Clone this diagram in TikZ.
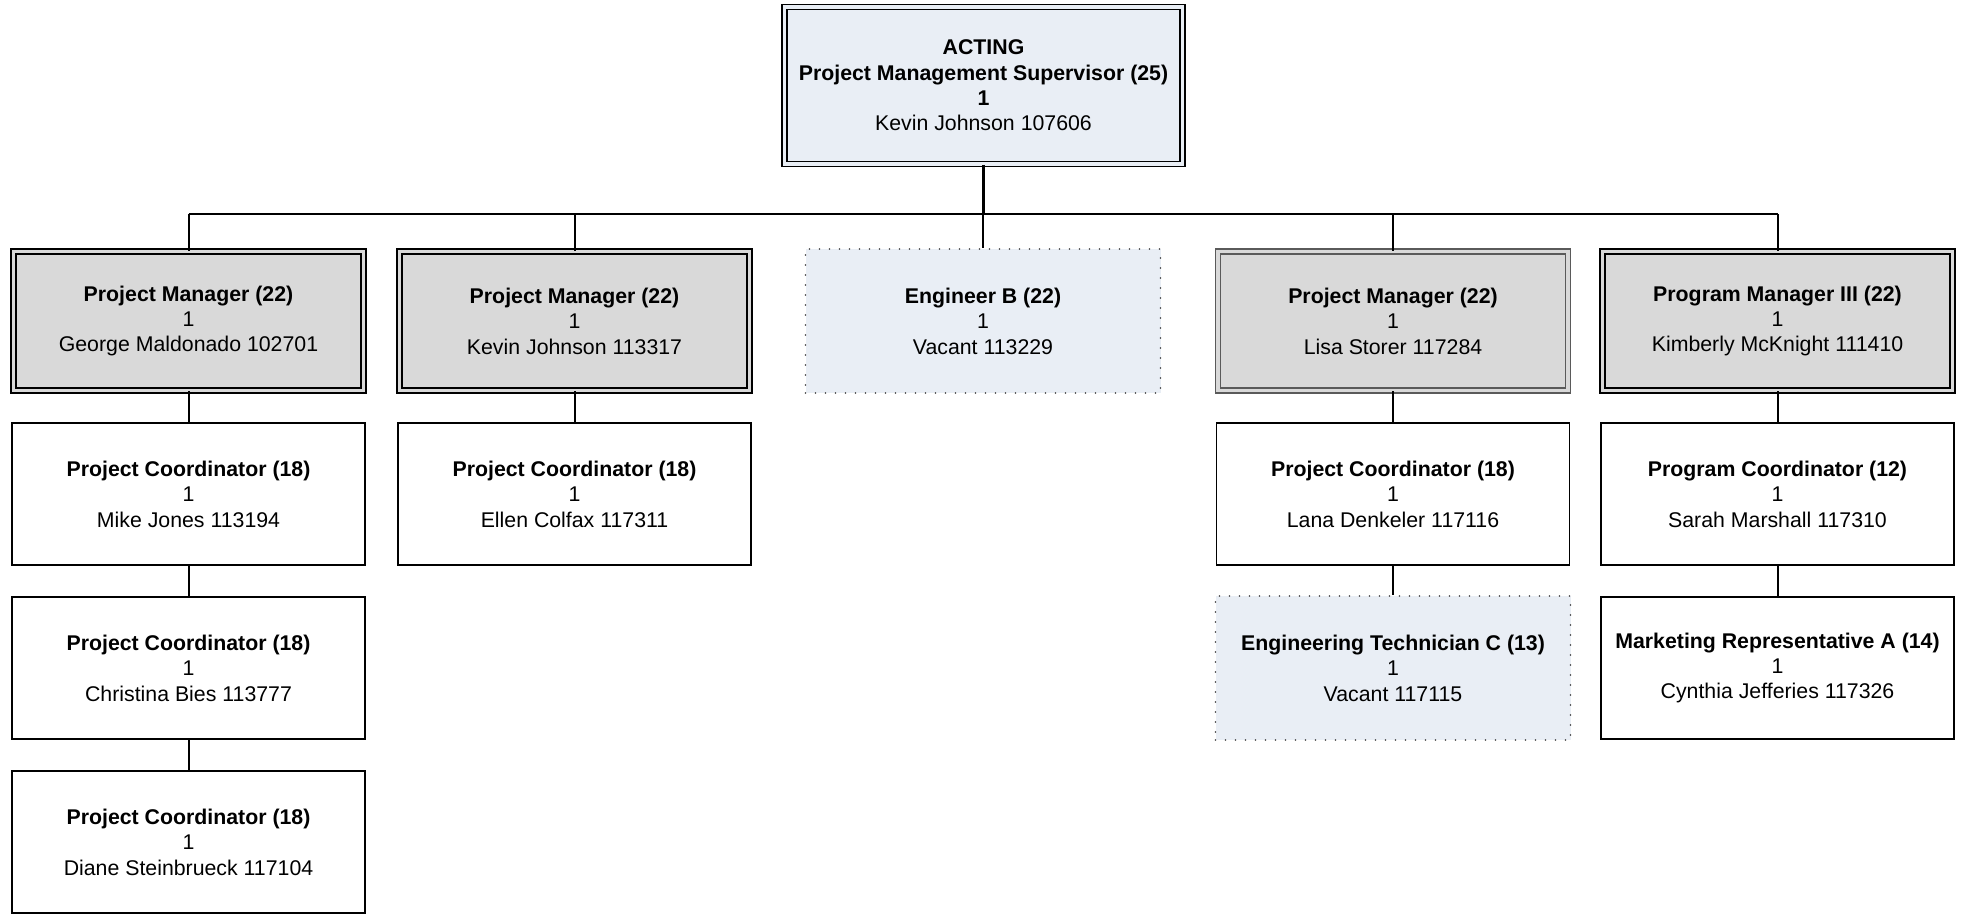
\documentclass[tikz,border=0pt]{standalone}
\usepackage{fontspec}
\setmainfont{Liberation Sans}
\definecolor{lightblue}{HTML}{E9EEF5}
\definecolor{mgrgray}{HTML}{D9D9D9}
\definecolor{dotgray}{HTML}{404040}
\definecolor{lisaborder}{HTML}{5A5A5A}
\begin{document}
\begin{tikzpicture}[x=1pt,y=-1pt,
  every node/.style={font=\fontsize{21.3}{25.4}\selectfont, align=center, inner sep=0pt},
  plainbox/.style={draw=black, line width=1.8pt, fill=white, minimum width=353pt, minimum height=142pt},
  dblbox/.style={draw=black, fill=mgrgray, double=mgrgray, line width=1.6pt, double distance=3.2pt, minimum width=350pt, minimum height=139pt},
  topbox/.style={draw=black, fill=lightblue, double=lightblue, line width=1.6pt, double distance=3.2pt, minimum width=398pt, minimum height=157pt},
  vacbox/.style={draw=dotgray, fill=lightblue, line width=1.8pt, line cap=round, dash pattern=on 0pt off 10pt, minimum width=355pt, minimum height=144pt},
  toplink/.style={draw=black, line width=2.4pt},
  sublink/.style={draw=black, line width=2pt}
]
\useasboundingbox (0,0) rectangle (1965,915);

% top
\node[topbox] (top) at (983.5,85.5) {\textbf{ACTING}\\\textbf{Project Management Supervisor (25)}\\\textbf{1}\\Kevin Johnson 107606};

% level 2
\node[dblbox] (pm1) at (188.5,321) {\textbf{Project Manager (22)}\\1\\George Maldonado 102701};
\node[dblbox] (pm2) at (574.5,321) {\textbf{Project Manager (22)}\\1\\Kevin Johnson 113317};
\node[vacbox] (engb) at (983,321) {\textbf{Engineer B (22)}\\1\\Vacant 113229};
\node[dblbox, draw=lisaborder] (pm4) at (1393,321) {\textbf{Project Manager (22)}\\1\\Lisa Storer 117284};
\node[dblbox] (pm5) at (1777.5,321) {\textbf{Program Manager III (22)}\\1\\Kimberly McKnight 111410};

% level 3
\node[plainbox] (pc1) at (188.5,494) {\textbf{Project Coordinator (18)}\\1\\Mike Jones 113194};
\node[plainbox] (pc2) at (574.5,494) {\textbf{Project Coordinator (18)}\\1\\Ellen Colfax 117311};
\node[plainbox] (pc4) at (1393,494) {\textbf{Project Coordinator (18)}\\1\\Lana Denkeler 117116};
\node[plainbox] (pg5) at (1777.5,494) {\textbf{Program Coordinator (12)}\\1\\Sarah Marshall 117310};

% level 4
\node[plainbox] (pc1b) at (188.5,668) {\textbf{Project Coordinator (18)}\\1\\Christina Bies 113777};
\node[vacbox] (etc) at (1393,668) {\textbf{Engineering Technician C (13)}\\1\\Vacant 117115};
\node[plainbox] (mra) at (1777.5,668) {\textbf{Marketing Representative A (14)}\\1\\Cynthia Jefferies 117326};

% level 5
\node[plainbox] (pc1c) at (188.5,842) {\textbf{Project Coordinator (18)}\\1\\Diane Steinbrueck 117104};

% bus
\coordinate (busy) at (0,214);
\draw[toplink] (top.south) -- (top.south |- busy);
\draw[toplink] (pm1.north |- busy) -- (pm5.north |- busy);
\foreach \n in {pm1,pm2,engb,pm4,pm5}{
  \draw[sublink] (\n.north |- busy) -- (\n.north);
}

% sub links
\draw[sublink] (pm1.south) -- (pc1.north);
\draw[sublink] (pc1.south) -- (pc1b.north);
\draw[sublink] (pc1b.south) -- (pc1c.north);
\draw[sublink] (pm2.south) -- (pc2.north);
\draw[sublink] (pm4.south) -- (pc4.north);
\draw[sublink] (pc4.south) -- (etc.north);
\draw[sublink] (pm5.south) -- (pg5.north);
\draw[sublink] (pg5.south) -- (mra.north);
\end{tikzpicture}
\end{document}
